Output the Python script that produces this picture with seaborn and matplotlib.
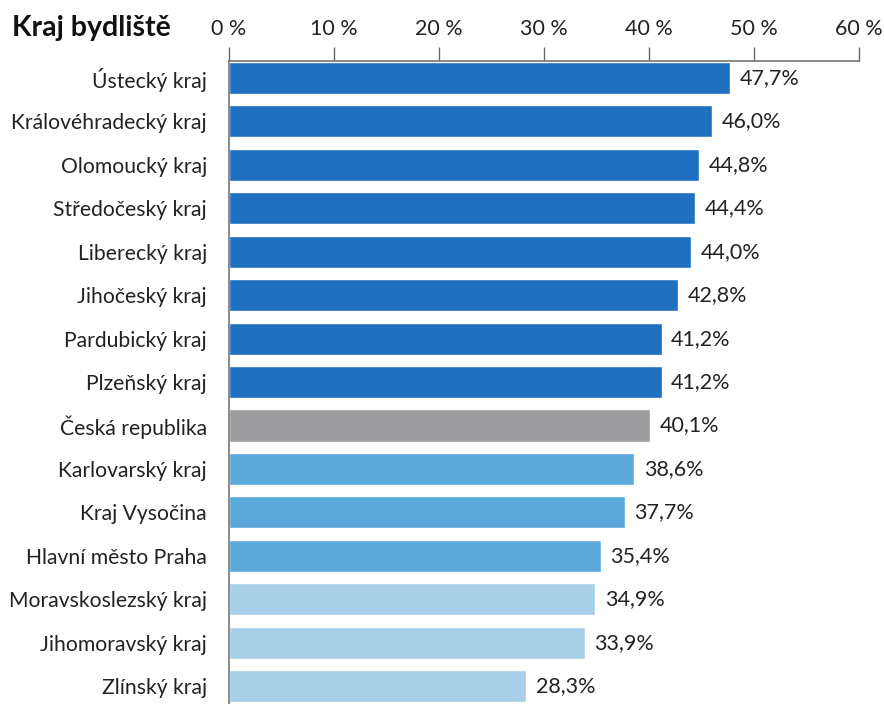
import matplotlib
matplotlib.use("Agg")
import matplotlib.pyplot as plt
import seaborn as sns
import pandas as pd

regions = [
    "Ústecký kraj", "Královéhradecký kraj", "Olomoucký kraj", "Středočeský kraj",
    "Liberecký kraj", "Jihočeský kraj", "Pardubický kraj", "Plzeňský kraj",
    "Česká republika", "Karlovarský kraj", "Kraj Vysočina", "Hlavní město Praha",
    "Moravskoslezský kraj", "Jihomoravský kraj", "Zlínský kraj",
]
shares = [47.7, 46.0, 44.8, 44.4, 44.0, 42.8, 41.2, 41.2,
          40.1, 38.6, 37.7, 35.4, 34.9, 33.9, 28.3]
groups = ["high"] * 8 + ["cr"] + ["mid"] * 3 + ["low"] * 3
group_colors = {"high": "#1F70C1", "cr": "#9C9C9E", "mid": "#5AA8DA", "low": "#A8CFE8"}
x_ticks = [0, 10, 20, 30, 40, 50, 60]

df = pd.DataFrame({"kraj": regions, "podil": shares, "skupina": groups})

sns.set_theme(style="white")
plt.rcParams["font.family"] = ["Lato", "DejaVu Sans"]

fig = plt.figure(figsize=(8.84, 7.04), dpi=100)
ax = fig.add_axes([229 / 884, 0.0, (859 - 229) / 884, (704 - 61) / 704])

sns.barplot(data=df, x="podil", y="kraj", hue="skupina", palette=group_colors,
            dodge=False, legend=False, width=0.74, saturation=1, ax=ax)

ax.set_xlim(0, 60)
ax.set_ylim(14.41, -0.39)
ax.xaxis.tick_top()
ax.set_xticks(x_ticks)
ax.set_xticklabels([f"{t} %" for t in x_ticks], fontsize=15.5, color="#222222")
ax.tick_params(axis="x", direction="out", length=10, width=1, color="#666666", pad=6)
ax.tick_params(axis="y", length=0, pad=16, labelsize=15.2, labelcolor="#222222")
ax.set_xlabel("")
ax.set_ylabel("")

for side in ["right", "bottom"]:
    ax.spines[side].set_visible(False)
for side in ["top", "left"]:
    ax.spines[side].set_visible(True)
    ax.spines[side].set_color("#777777")
    ax.spines[side].set_linewidth(1.2)

for i, v in enumerate(shares):
    ax.text(v + 0.9, i, f"{v:.1f}%".replace(".", ","), va="center", ha="left",
            fontsize=15.5, color="#222222")

fig.text(12 / 884, 1 - 28 / 704, "Kraj bydliště", fontsize=20.5, fontweight="bold",
         va="center", ha="left", color="#111111")

fig.savefig("out.png", dpi=100)
